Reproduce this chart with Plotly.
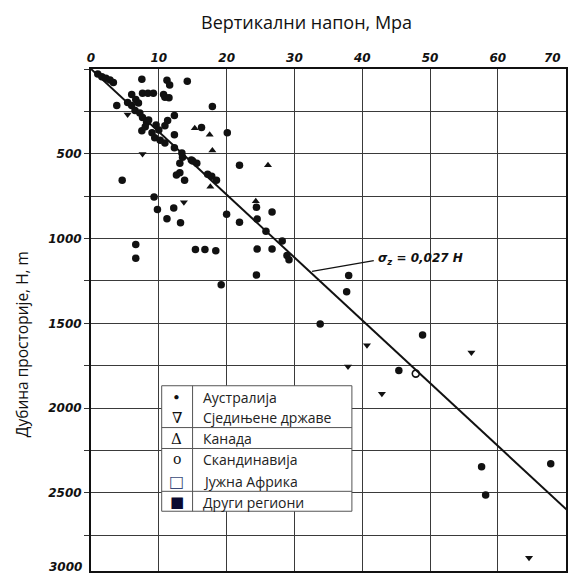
import plotly.graph_objects as go

# ---------------- data (stress in MPa, depth H in m) ----------------
aus_stress = [1.0, 1.6, 2.2, 2.8, 3.3, 7.5, 11.2, 11.6, 14.2,
              7.6, 8.4, 9.2, 10.7, 10.9, 11.5,
              6.0, 3.8, 5.4, 6.0, 6.6, 7.0, 17.9,
              6.5, 7.2, 7.6, 8.2, 7.5, 8.0, 9.0, 9.4, 8.5, 9.6, 10.0,
              10.9, 11.3, 12.3, 12.3, 10.9, 10.2,
              12.3, 13.4, 13.1, 14.8, 15.6, 15.0, 13.5, 16.3, 20.1,
              4.6, 9.3, 9.8, 12.2, 11.2, 13.2,
              12.6, 13.1, 13.8, 17.8, 18.5, 17.2,
              6.6, 6.6, 15.4, 16.8, 18.4, 19.2,
              20.0, 21.9, 24.4, 24.5, 26.7, 25.8, 28.2, 24.5, 26.7, 28.9, 29.2, 24.4, 21.9,
              38.0, 37.7, 33.8, 48.9, 45.4, 57.6, 58.2, 67.8]
aus_depth = [30, 45, 55, 65, 80, 60, 66, 95, 72,
             143, 143, 143, 150, 167, 170,
             150, 215, 197, 215, 180, 200, 221,
             245, 260, 286, 316, 364, 340, 376, 406, 300, 330, 360,
             334, 304, 274, 388, 436, 420,
             465, 495, 555, 537, 555, 543, 520, 345, 376,
             656, 755, 829, 820, 883, 907,
             625, 612, 656, 632, 656, 620,
             1035, 1116, 1065, 1065, 1072, 1272,
             856, 904, 815, 885, 843, 957, 1014, 1062, 1062, 1100, 1125, 1215, 567,
             1218, 1313, 1504, 1569, 1778, 2345, 2512, 2327]

usa_stress = [5.4, 7.6, 13.7, 40.7, 37.9, 42.9, 56.1, 64.6]
usa_depth = [268, 501, 785, 1629, 1754, 1915, 1671, 2882]

can_stress = [15.3, 17.5, 17.9, 26.1, 17.6, 24.3]
can_depth = [350, 388, 480, 567, 695, 780]

scan_stress = [47.9]
scan_depth = [1796]

LINE_COEF = 0.027          # sigma_z = 0.027 H
line_depth = [0, 2600]

x_ticks = [0, 10, 20, 30, 40, 50, 60, 70]
x_labels = [str(v) for v in x_ticks]
y_ticks = [0, 250, 500, 750, 1000, 1250, 1500, 1750, 2000, 2250, 2500, 2750, 3000]
y_labels = ["" if (v % 500 or v == 0) else str(v) for v in y_ticks]

legend_symbols = ["•", "∇", "Δ", "ο", "□", "■"]
legend_names = ["Аустралија", "Сједињене државе", "Канада", "Скандинавија", "Јужна Африка", "Други региони"]

# ---------------- geometry helpers ----------------
W, H = 568, 573
L, T = 91, 69
PW, PH = W - L, H - T


def px(xp):
    return (xp - L) / PW


def py(yp):
    return 1 - (yp - T) / PH


tick_font = dict(family="DejaVu Sans", size=12, color="#111", weight="bold", style="italic")

fig = go.Figure()

fig.add_trace(go.Scatter(
    x=[LINE_COEF * d for d in line_depth], y=line_depth, mode="lines",
    line=dict(color="#111", width=2), showlegend=False, hoverinfo="skip"))

fig.add_trace(go.Scatter(x=aus_stress, y=aus_depth, mode="markers", name=legend_names[0],
                         marker=dict(symbol="circle", size=7.5, color="#111"), showlegend=False))
fig.add_trace(go.Scatter(x=usa_stress, y=usa_depth, mode="markers", name=legend_names[1],
                         marker=dict(symbol="triangle-down", size=7, color="#111"), showlegend=False))
fig.add_trace(go.Scatter(x=can_stress, y=can_depth, mode="markers", name=legend_names[2],
                         marker=dict(symbol="triangle-up", size=7, color="#111"), showlegend=False))
fig.add_trace(go.Scatter(x=scan_stress, y=scan_depth, mode="markers", name=legend_names[3],
                         marker=dict(symbol="circle-open", size=7, color="#111", line=dict(width=1.6)),
                         showlegend=False))

shapes = []
annotations = []

# formula label with leader line
shapes.append(dict(type="line", xref="x", yref="y", x0=32.6, y0=1193, x1=41.7, y1=1130,
                   line=dict(color="#111", width=1.2)))
annotations.append(dict(x=42.0, y=1122, xref="x", yref="y", xanchor="left", yanchor="middle",
                        text="<i><b>σ<sub>z</sub> = 0,027 H</b></i>", showarrow=False,
                        font=dict(family="DejaVu Sans", size=12, color="#111")))

# last x tick label (drawn inside the page edge, as in the reference)
annotations.append(dict(x=x_ticks[-1], y=py(58), xref="x", yref="paper", text=x_labels[-1],
                        showarrow=False, xanchor="right", yanchor="middle", xshift=-3, font=tick_font))
# last y tick label (partly cut by the page bottom, as in the reference)
annotations.append(dict(x=px(84), y=py(569), xref="paper", yref="paper", text=str(y_ticks[-1]),
                        showarrow=False, xanchor="right", yanchor="middle", font=tick_font))

# custom table legend
bx0, bx1, by0, by1 = 162, 353, 387, 513
shapes.append(dict(type="rect", xref="paper", yref="paper", x0=px(bx0), x1=px(bx1), y0=py(by1), y1=py(by0),
                   fillcolor="white", line=dict(color="#555", width=1), layer="above"))
shapes.append(dict(type="line", xref="paper", yref="paper", x0=px(193), x1=px(193), y0=py(by1), y1=py(by0),
                   line=dict(color="#555", width=1), layer="above"))
for sy in [429, 450, 493]:
    shapes.append(dict(type="line", xref="paper", yref="paper", x0=px(bx0), x1=px(bx1), y0=py(sy), y1=py(sy),
                       line=dict(color="#555", width=1), layer="above"))
row_y = [399, 419, 440, 461, 483, 504]
sym_colors = ["#111", "#111", "#111", "#111", "#3a4a78", "#0a0a30"]
sym_sizes = [15, 15, 15, 14, 16, 15]
for i, (s, n) in enumerate(zip(legend_symbols, legend_names)):
    annotations.append(dict(x=px(177), y=py(row_y[i]), xref="paper", yref="paper", text=s, showarrow=False,
                            xanchor="center", yanchor="middle",
                            font=dict(family="DejaVu Serif", size=sym_sizes[i], color=sym_colors[i])))
    annotations.append(dict(x=px(201), y=py(row_y[i]), xref="paper", yref="paper", text=n, showarrow=False,
                            xanchor="left", yanchor="middle",
                            font=dict(family="Open Sans", size=14, color="#222")))

# titles
annotations.append(dict(x=px(307), y=py(22), xref="paper", yref="paper", text="Вертикални напон, Мра",
                        showarrow=False, xanchor="center", yanchor="middle",
                        font=dict(family="Open Sans", size=18, color="#111")))
annotations.append(dict(x=px(22), y=py(345), xref="paper", yref="paper", text="Дубина просторије, H, m",
                        showarrow=False, xanchor="center", yanchor="middle", textangle=-90,
                        font=dict(family="Open Sans", size=15.5, color="#111")))

fig.update_layout(
    width=W, height=H, margin=dict(l=L, r=0, t=T, b=0),
    paper_bgcolor="white", plot_bgcolor="white",
    shapes=shapes, annotations=annotations, showlegend=False,
    xaxis=dict(side="top", range=[0, 70.05], tickvals=x_ticks[:-1], ticktext=x_labels[:-1],
               showgrid=True, gridcolor="#3a3a3a", gridwidth=1.4, zeroline=False,
               showline=True, linecolor="#111", linewidth=2, mirror=True, ticks="",
               tickfont=tick_font),
    yaxis=dict(range=[2960, 0], tickvals=y_ticks[:-1], ticktext=y_labels[:-1],
               showgrid=True, gridcolor="#3a3a3a", gridwidth=1.4, zeroline=False,
               showline=True, linecolor="#111", linewidth=2, mirror=True,
               ticks="outside", ticklen=5, tickcolor="#333", tickwidth=1.4,
               tickfont=tick_font),
)

fig.write_html("out.html")
